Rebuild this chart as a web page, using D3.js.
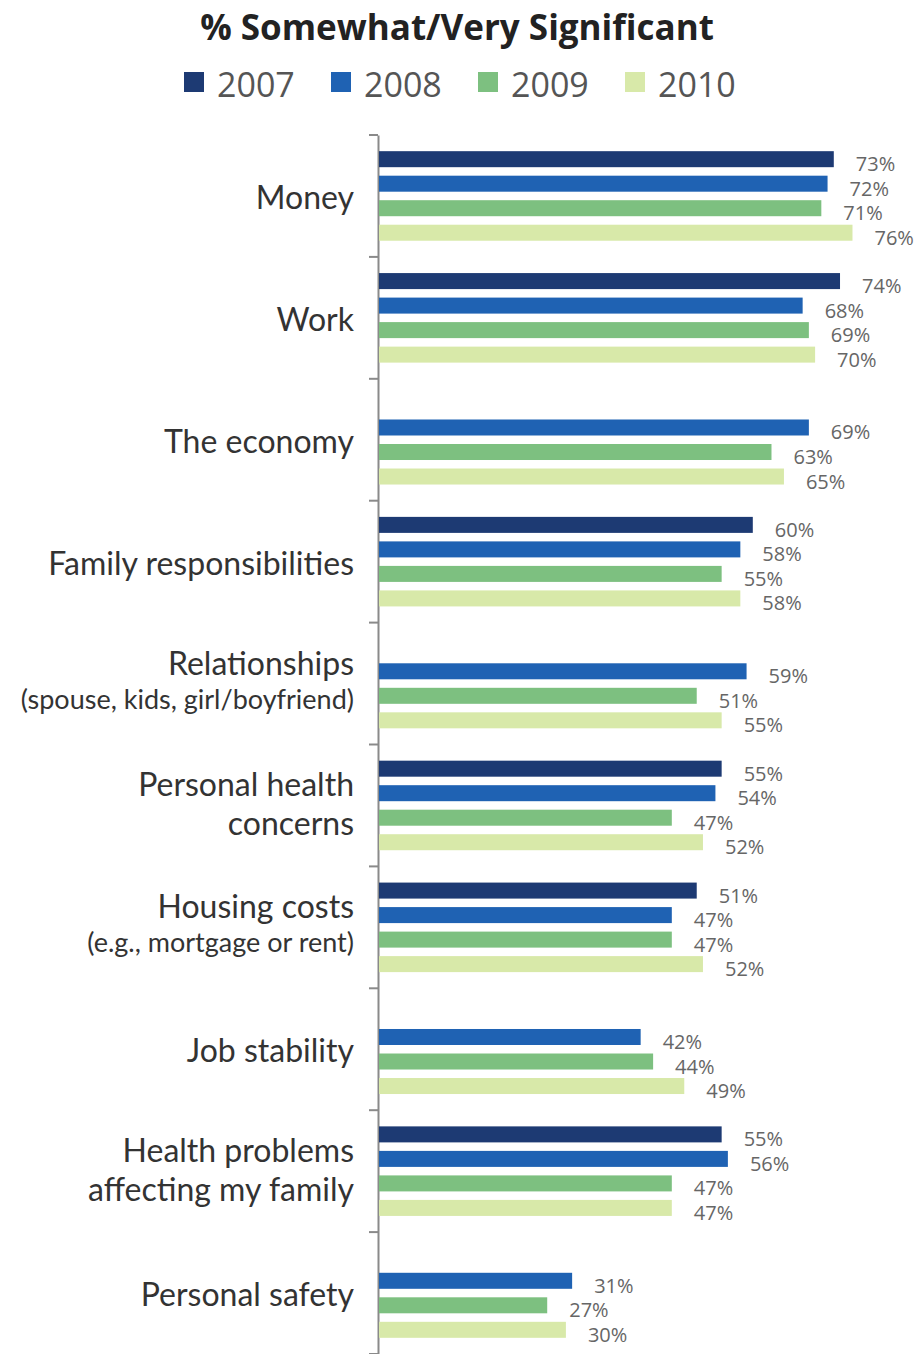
<!DOCTYPE html>
<html>
<head>
<meta charset="utf-8">
<script src="https://cdn.jsdelivr.net/npm/d3@7"></script>
<style>
  body { margin: 0; background: white; }
  text { font-family: "Open Sans", sans-serif; }
  .cat { font-family: Lato, sans-serif; }
</style>
</head>
<body>
<div id="chart"></div>
<script>
// data
let categories = ["Money", "Work", "The economy", "Family responsibilities",
  "Relationships", "Personal health concerns", "Housing costs", "Job stability",
  "Health problems affecting my family", "Personal safety"];
let labelLines = [["Money"], ["Work"], ["The economy"], ["Family responsibilities"],
  ["Relationships", "(spouse, kids, girl/boyfriend)"], ["Personal health", "concerns"],
  ["Housing costs", "(e.g., mortgage or rent)"], ["Job stability"],
  ["Health problems", "affecting my family"], ["Personal safety"]];
let years = ["2007", "2008", "2009", "2010"];
let v2007 = [73, 74, null, 60, null, 55, 51, null, 55, null];
let v2008 = [72, 68, 69, 58, 59, 54, 47, 42, 56, 31];
let v2009 = [71, 69, 63, 55, 51, 47, 47, 44, 47, 27];
let v2010 = [76, 70, 65, 58, 55, 52, 52, 49, 47, 30];
let colors = ["#1d3a73", "#1f62b3", "#7dc080", "#d8e9a9"];

let series = [v2007, v2008, v2009, v2010];

let width = 924, height = 1354;
let margin = { top: 135, left: 378, right: 0, bottom: 0 };

let svg = d3.select("#chart").append("svg")
  .attr("width", width)
  .attr("height", height);

// title + legend
svg.append("text")
  .attr("x", 457).attr("y", 40)
  .attr("text-anchor", "middle")
  .attr("font-size", 35).attr("font-weight", "bold")
  .attr("fill", "#222")
  .text("% Somewhat/Very Significant");

let legend = svg.selectAll(".legend")
  .data(years)
  .enter().append("g")
  .attr("transform", function(d, i) { return "translate(" + (184 + i * 147) + ",72)"; });
legend.append("rect")
  .attr("width", 20).attr("height", 20)
  .attr("fill", function(d, i) { return colors[i]; });
legend.append("text")
  .attr("x", 33).attr("y", 25)
  .attr("font-size", 34).attr("fill", "#555")
  .text(function(d) { return d; });

// scales
let y = d3.scaleBand().domain(categories).range([margin.top, height]);
let ySub = d3.scaleBand().domain(years).range([0, y.bandwidth()]).paddingInner(0.347).paddingOuter(0.66);
let x = d3.scaleLinear().domain([0, 100]).range([margin.left + 1, margin.left + 1 + 623]);

// axis
let axis = svg.append("g")
  .attr("transform", "translate(" + margin.left + ",0)")
  .call(d3.axisLeft(y).tickValues([]).tickSizeOuter(0));
axis.select(".domain").attr("stroke", "#8a8a8a").attr("stroke-width", 2);
svg.append("g").selectAll("line")
  .data(d3.range(categories.length + 1))
  .enter().append("line")
  .attr("x1", margin.left - 9).attr("x2", margin.left)
  .attr("y1", function(i) { return margin.top + i * y.step(); })
  .attr("y2", function(i) { return margin.top + i * y.step(); })
  .attr("stroke", "#8a8a8a").attr("stroke-width", 2);

// category labels
let labels = svg.selectAll(".cat")
  .data(categories)
  .enter().append("text")
  .attr("class", "cat")
  .attr("text-anchor", "end")
  .attr("fill", "#333");
labels.each(function(d, i) {
  let lines = labelLines[i];
  let cy = y(d) + y.bandwidth() / 2;
  let t = d3.select(this);
  lines.forEach(function(l, j) {
    let big = !l.startsWith("(");
    let yy = cy + 13;
    if (lines.length > 1) yy = j === 0 ? cy - 9 : (big ? cy + 30 : cy + 25);
    t.append("tspan")
      .attr("x", 354)
      .attr("y", yy)
      .attr("font-size", big ? 32 : 27)
      .text(l);
  });
});

// bars
let rows = [];
categories.forEach(function(c, i) {
  years.forEach(function(yr, k) {
    if (series[k][i] != null) rows.push({ cat: c, year: yr, k: k, v: series[k][i] });
  });
});

svg.selectAll(".bar")
  .data(rows)
  .enter().append("rect")
  .attr("class", "bar")
  .attr("x", x(0))
  .attr("y", function(d) { return y(d.cat) + ySub(d.year); })
  .attr("width", function(d) { return x(d.v) - x(0); })
  .attr("height", ySub.bandwidth())
  .attr("fill", function(d) { return colors[d.k]; });

svg.selectAll(".val")
  .data(rows)
  .enter().append("text")
  .attr("class", "val")
  .attr("x", function(d) { return x(d.v) + 22; })
  .attr("y", function(d) { return y(d.cat) + ySub(d.year) + ySub.bandwidth() / 2 + 12; })
  .attr("font-size", 20)
  .attr("fill", "#666")
  .text(function(d) { return d.v + "%"; });
</script>
</body>
</html>
